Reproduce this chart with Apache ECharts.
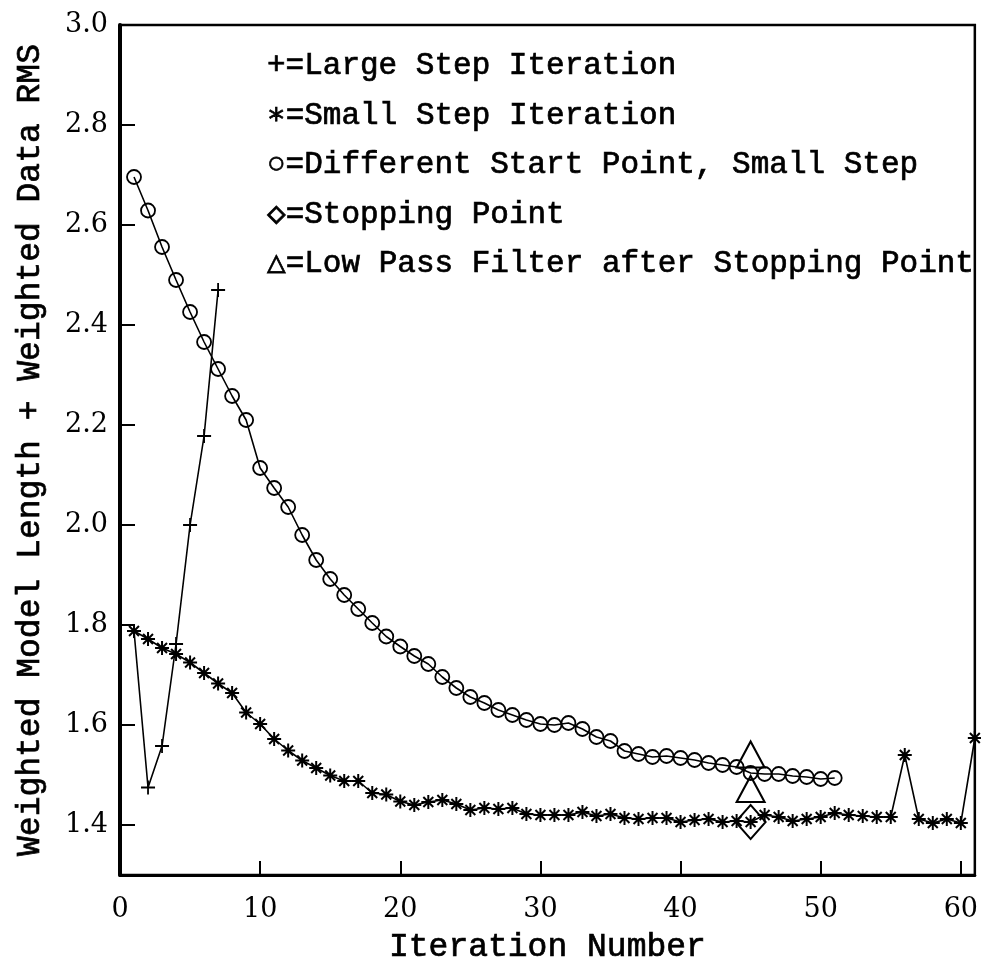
<!DOCTYPE html>
<html>
<head>
<meta charset="utf-8">
<script src="https://cdn.jsdelivr.net/npm/echarts@6/dist/echarts.min.js"></script>
<style>
  html, body { margin: 0; padding: 0; background: #fff; }
  #chart { width: 981px; height: 970px; }
</style>
</head>
<body>
<div id="chart"></div>
<script>
// Iteration numbers and objective values (weighted model length + weighted data RMS)
const largeStepIter = [1, 2, 3, 4, 5, 6, 7];
const largeStepVal  = [1.788, 1.475, 1.558, 1.762, 2.0, 2.178, 2.47];

const smallStepIter = [1,2,3,4,5,6,7,8,9,10,11,12,13,14,15,16,17,18,19,20,21,22,23,24,25,26,27,28,29,30,
                       31,32,33,34,35,36,37,38,39,40,41,42,43,44,45,46,47,48,49,50,51,52,53,54,55,56,57,58,59,60,61];
const smallStepVal  = [1.788,1.772,1.754,1.742,1.725,1.704,1.683,1.664,1.625,1.602,
                       1.572,1.549,1.529,1.514,1.499,1.488,1.488,1.464,1.461,1.447,
                       1.440,1.446,1.450,1.442,1.430,1.434,1.432,1.434,1.422,1.420,
                       1.420,1.420,1.426,1.418,1.422,1.414,1.412,1.414,1.414,1.406,
                       1.410,1.412,1.406,1.408,1.406,1.420,1.416,1.408,1.412,1.416,
                       1.424,1.420,1.418,1.416,1.416,1.540,1.412,1.404,1.412,1.404,
                       1.574];

const diffStartIter = [1,2,3,4,5,6,7,8,9,10,11,12,13,14,15,16,17,18,19,20,21,22,23,24,25,
                       26,27,28,29,30,31,32,33,34,35,36,37,38,39,40,41,42,43,44,45,46,47,48,49,50,51];
const diffStartVal  = [2.696,2.629,2.556,2.490,2.426,2.366,2.312,2.258,2.210,2.114,
                       2.074,2.036,1.980,1.930,1.892,1.860,1.832,1.804,1.777,1.757,
                       1.738,1.722,1.696,1.674,1.656,1.644,1.630,1.620,1.610,1.602,
                       1.600,1.604,1.592,1.576,1.568,1.548,1.542,1.536,1.538,1.534,
                       1.530,1.524,1.520,1.516,1.504,1.502,1.502,1.498,1.496,1.492,
                       1.494];

const stopIter = [45];
const stopVal  = [1.406];

const lowPassIter = [45, 45];
const lowPassVal  = [1.541, 1.472];

const xTicks = [0, 10, 20, 30, 40, 50, 60];
const yTicks = [1.4, 1.6, 1.8, 2.0, 2.2, 2.4, 2.6, 2.8, 3.0];

const legendLines = [
  '+=Large Step Iteration',
  '\u2217=Small Step Iteration',
  '\u25CB=Different Start Point, Small Step',
  '\u25C7=Stopping Point',
  '\u25B3=Low Pass Filter after Stopping Point'
];

const xName = 'Iteration Number';
const yName = 'Weighted Model Length + Weighted Data RMS';

const pairs = (xs, ys) => xs.map((x, i) => [x, ys[i]]);

const TEXT_FONT = '"Liberation Mono", "DejaVu Sans Mono", monospace';
const NUM_FONT = '"DejaVu Serif", serif';

// stroked marker outlines: plus and eight-armed asterisk
const plusPath = 'path://M6,0L6,12M0,6L12,6';
const starPath = 'path://M12,0L12,24M0,12L24,12M3.5,3.5L20.5,20.5M3.5,20.5L20.5,3.5';

const chart = echarts.init(document.getElementById('chart'), null, { renderer: 'canvas' });

// the large-step run starts from the shared first iterate, which carries no plus mark
const largeData = pairs(largeStepIter, largeStepVal).map((p, i) =>
  i === 0 ? { value: p, symbol: 'none' } : { value: p });

const option = {
  backgroundColor: '#fff',
  animation: false,
  grid: {
    left: 120, right: 6, top: 25, bottom: 95,
    show: true, borderColor: '#000', borderWidth: 2.5, backgroundColor: 'transparent'
  },
  xAxis: {
    type: 'value', min: 0, max: 61,
    name: xName, nameLocation: 'middle', nameGap: 56,
    nameTextStyle: { fontFamily: TEXT_FONT, fontSize: 33, color: '#000',
                     textBorderColor: '#000', textBorderWidth: 0.7 },
    axisLine: { show: true, onZero: false, lineStyle: { color: '#000', width: 3 } },
    axisTick: { show: true, inside: true, length: 14, customValues: xTicks,
                lineStyle: { color: '#000', width: 2 } },
    axisLabel: { customValues: xTicks, margin: 21, color: '#000',
                 fontFamily: NUM_FONT, fontSize: 27 },
    splitLine: { show: false }
  },
  yAxis: {
    type: 'value', min: 1.3, max: 3.0,
    name: yName, nameLocation: 'middle', nameGap: 73, nameRotate: 90,
    nameTextStyle: { fontFamily: TEXT_FONT, fontSize: 33, color: '#000',
                     textBorderColor: '#000', textBorderWidth: 0.7 },
    axisLine: { show: true, onZero: false, lineStyle: { color: '#000', width: 4 } },
    axisTick: { show: true, inside: true, length: 15, customValues: yTicks,
                lineStyle: { color: '#000', width: 2 } },
    axisLabel: { customValues: yTicks, margin: 12, color: '#000',
                 fontFamily: NUM_FONT, fontSize: 27,
                 formatter: v => Number(v).toFixed(1) },
    splitLine: { show: false }
  },
  series: [
    {
      name: 'Large Step Iteration', type: 'line', data: largeData,
      symbol: plusPath, symbolSize: 14, showAllSymbol: true,
      lineStyle: { color: '#000', width: 1.6 },
      itemStyle: { color: 'transparent', borderColor: '#000', borderWidth: 1.8 },
      z: 3
    },
    {
      name: 'Small Step Iteration', type: 'line', data: pairs(smallStepIter, smallStepVal),
      symbol: starPath, symbolSize: 14, showAllSymbol: true,
      lineStyle: { color: '#000', width: 1.6 },
      itemStyle: { color: 'transparent', borderColor: '#000', borderWidth: 2 },
      z: 3
    },
    {
      name: 'Different Start Point, Small Step', type: 'line', data: pairs(diffStartIter, diffStartVal),
      symbol: 'circle', symbolSize: 14, showAllSymbol: true,
      lineStyle: { color: '#000', width: 1.6 },
      itemStyle: { color: 'transparent', borderColor: '#000', borderWidth: 1.8 },
      z: 3
    },
    {
      name: 'Stopping Point', type: 'scatter', data: pairs(stopIter, stopVal),
      symbol: 'diamond', symbolSize: [30, 34],
      itemStyle: { color: 'transparent', borderColor: '#000', borderWidth: 2, opacity: 1 },
      z: 4
    },
    {
      name: 'Low Pass Filter after Stopping Point', type: 'scatter', data: pairs(lowPassIter, lowPassVal),
      symbol: 'triangle', symbolSize: [28, 26],
      itemStyle: { color: 'transparent', borderColor: '#000', borderWidth: 2, opacity: 1 },
      z: 4
    }
  ],
  graphic: legendLines.map((t, i) => ({
    type: 'text',
    x: 267,
    y: 66 + i * 49.5,
    style: {
      text: t,
      font: '31px ' + TEXT_FONT,
      fill: '#000',
      stroke: '#000',
      lineWidth: 0.7,
      align: 'left',
      verticalAlign: 'middle',
      textAlign: 'left',
      textVerticalAlign: 'middle'
    },
    z: 10
  }))
};

chart.setOption(option);
</script>
</body>
</html>
